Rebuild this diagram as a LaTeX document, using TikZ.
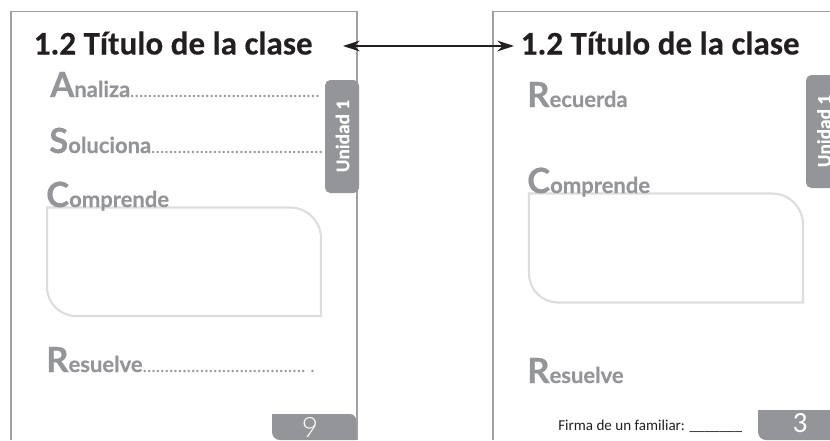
\documentclass[tikz,border=0pt]{standalone}
\usepackage{fontspec}
\setmainfont{Carlito}[BoldFeatures={FakeBold=0.25}]
\newfontfamily\headf{Lato}[BoldFont=* Bold,BoldFeatures={FakeBold=0.5}]
\newfontfamily\numf{Lato Light}
\usetikzlibrary{arrows.meta}
\definecolor{tabgray}{HTML}{939598}
\definecolor{pageline}{HTML}{A0A0A0}
\definecolor{boxline}{HTML}{DDDDDD}
\definecolor{titleblack}{HTML}{231F20}
\tikzset{
  x=0.75pt,y=-0.75pt,
  pageedge/.style={draw=pageline,line width=1.2pt},
  answerbox/.style={draw=boxline,line width=1.6pt},
  tabshape/.style={fill=tabgray,draw=none},
  pagetitle/.style={anchor=base west,inner sep=0pt,font=\fontsize{24.8}{27}\selectfont\bfseries,text=titleblack},
  heading/.style={anchor=base west,inner sep=0pt,text=tabgray,font=\headf\bfseries},
  tabtext/.style={rotate=90,inner sep=0pt,text=white,font=\fontsize{14.5}{16}\selectfont\bfseries},
  pagenum/.style={inner sep=0pt,text=white},
  linkarrow/.style={draw=titleblack,line width=1.6pt,{Stealth[length=12.5pt,width=8pt]}-{Stealth[length=12.5pt,width=8pt]}},
}
\newcommand{\headtext}[2]{{\fontsize{26}{28}\selectfont #1}{\fontsize{16.5}{20}\selectfont #2}}
\newcommand{\leaderfont}{\fontsize{14}{15}\selectfont\mdseries}
\begin{document}
\begin{tikzpicture}
\useasboundingbox (0,0) rectangle (830,440);
% left page
\draw[pageedge] (11,440) -- (11,11.5) -- (357,11.5) -- (357,440);
\node[pagetitle] (titleL) at (33.5,54.5) {1.2 Título de la clase};
\node[heading] (analiza) at (50,97) {\headtext{A}{naliza\leaderfont...........................................}};
\node[heading] (soluciona) at (49,153) {\headtext{S}{oluciona\leaderfont.......................................}};
\draw[answerbox] (47,207.5) -- (290,207.5) arc[start angle=270,end angle=360,radius=31] -- (321,316) -- (76,316) arc[start angle=90,end angle=180,radius=29] -- cycle;
\node[heading] (comprendeL) at (46,207) {\headtext{C}{omprende}};
\node[heading] (resuelveL) at (46,372) {\headtext{R}{esuelve\leaderfont.....................................~.}};
\filldraw[tabshape,rounded corners=4pt] (325,80) rectangle (359,193);
\node[tabtext] (unidadL) at (342.5,136) {Unidad 1};
\filldraw[tabshape] (272,414) -- (350,414) arc[start angle=270,end angle=360,radius=6] -- (356,440) -- (280,440) arc[start angle=90,end angle=180,radius=8] -- cycle;
\node[pagenum,font=\numf\fontsize{21}{24}\selectfont] (nueve) at (310,427) {9};
% right page
\draw[pageedge] (493,440) -- (493,11.5) -- (830,11.5);
\node[pagetitle] (titleR) at (520.5,54.5) {1.2 Título de la clase};
\node[heading] (recuerda) at (527,107) {\headtext{R}{ecuerda}};
\draw[answerbox] (529,193.5) -- (772,193.5) arc[start angle=270,end angle=360,radius=31] -- (803,302.5) -- (558,302.5) arc[start angle=90,end angle=180,radius=29] -- cycle;
\node[heading] (comprendeR) at (527,193) {\headtext{C}{omprende}};
\node[heading] (resuelveR) at (527,383) {\headtext{R}{esuelve}};
\node[anchor=base west,inner sep=0pt,font=\fontsize{11.3}{13}\selectfont,text=titleblack] (firma) at (558,430) {Firma de un familiar: \_\_\_\_\_\_\_};
\filldraw[tabshape,rounded corners=4pt] (806,75) rectangle (840,188);
\node[tabtext] (unidadR) at (824,131) {Unidad 1};
\filldraw[tabshape] (758,410) -- (830,410) -- (830,440) -- (766,440) arc[start angle=90,end angle=180,radius=8] -- cycle;
\node[pagenum,font=\fontsize{22}{24}\selectfont] (tres) at (800,423) {3};
% connector
\coordinate (tipL) at (343,46);
\coordinate (tipR) at (514,46);
\draw[linkarrow] (tipL) -- (tipR);
\end{tikzpicture}
\end{document}
